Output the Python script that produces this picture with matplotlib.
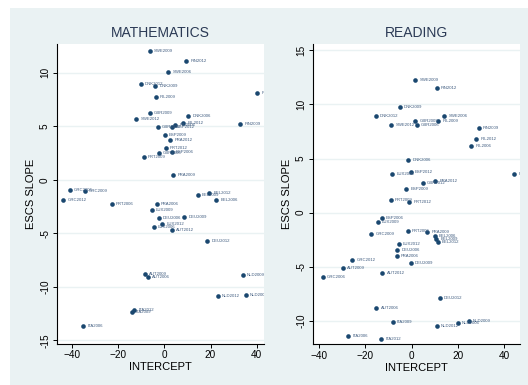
import matplotlib
matplotlib.use("Agg")
import matplotlib.pyplot as plt
from matplotlib.patches import Rectangle

plt.rcParams['font.family'] = ['Liberation Sans', 'DejaVu Sans']

# ---- MATHEMATICS ----
math_labels = ["SWE2009", "FIN2012", "SWE2006", "DNK2012", "DNK2009", "FIN2006", "IRL2009",
               "GBR2009", "DNK2006", "SWE2012", "IRL2012", "FIN2009", "GBR2012", "IRL2006",
               "ESP2012", "ESP2009", "FRA2012", "PRT2012", "GBR2006", "ESP2006", "PRT2009",
               "FRA2009", "GRC2006", "GRC2009", "GRC2012", "PRT2006", "FRA2006", "LUX2009",
               "DEU2006", "DEU2009", "LUX2012", "LUX2006", "AUT2012", "BEL2012", "BEL2009",
               "BEL2006", "DEU2012", "AUT2009", "AUT2006", "NLD2009", "NLD2012", "NLD2006",
               "ITA2012", "ITA2009", "ITA2006"]
math_x = [-6.2, 9.5, 1.7, -10.3, -4.1, 40.3, -3.8,
          -6.4, 10.3, -12.2, 8.2, 33.0, -3.0, 4.6,
          3.5, 0.1, 2.5, 0.5, -2.5, 3.1, -9.0,
          3.8, -41.0, -34.6, -43.9, -22.8, -3.4, -5.6,
          -2.4, 8.6, -1.0, -4.7, 3.4, 19.5, 14.5,
          22.5, 18.6, -8.3, -7.0, 33.9, 23.1, 35.2,
          -13.2, -14.1, -35.2]
math_y = [12.05, 11.1, 10.1, 8.9, 8.8, 8.06, 7.7,
          6.25, 6.0, 5.7, 5.3, 5.25, 4.95, 5.15,
          4.9, 4.2, 3.75, 3.0, 2.5, 2.6, 2.1,
          0.4, -1.0, -1.07, -1.85, -2.25, -2.3, -2.85,
          -3.6, -3.5, -4.1, -4.44, -4.66, -1.2, -1.47,
          -1.94, -5.7, -8.8, -9.1, -8.94, -10.9, -10.8,
          -12.2, -12.35, -13.7]

# ---- READING ----
read_labels = ["SWE2009", "FIN2012", "DNK2009", "DNK2012", "SWE2006", "GBR2009", "IRL2009",
               "SWE2012", "GBR2006", "FIN2009", "IRL2012", "IRL2006", "DNK2006", "FIN2006",
               "LUX2006", "ESP2012", "GBR2012", "FRA2012", "ESP2009", "PRT2009", "PRT2012",
               "ESP2006", "LUX2009", "GRC2009", "PRT2006", "FRA2009", "BEL2006", "BEL2009",
               "BEL2012", "LUX2012", "DEU2006", "FRA2006", "DEU2009", "GRC2012", "AUT2009",
               "AUT2012", "GRC2006", "DEU2012", "AUT2006", "ITA2009", "NLD2012", "NLD2006",
               "NLD2009", "ITA2006", "ITA2012"]
read_x = [1.6, 10.9, -5.2, -15.5, 14.1, 1.6, 11.5,
          -8.8, 2.3, 28.9, 28.0, 25.8, -1.4, 44.2,
          -8.3, -0.3, 4.8, 10.3, -2.4, -9.1, -1.0,
          -12.9, -14.6, -17.5, -1.6, 6.8, 10.0, 10.6,
          11.3, -5.6, -6.2, -6.5, -0.3, -25.6, -29.6,
          -12.6, -38.3, 12.2, -15.2, -8.1, 10.9, 19.9,
          24.7, -27.4, -13.2]
read_y = [12.25, 11.5, 9.75, 8.98, 8.92, 8.43, 8.45,
          8.08, 8.08, 7.84, 6.85, 6.2, 4.9, 3.6,
          3.6, 3.76, 2.74, 2.93, 2.19, 1.12, 0.98,
          -0.5, -0.87, -1.95, -1.7, -1.82, -2.22, -2.44,
          -2.72, -2.87, -3.43, -4.0, -4.63, -4.35, -5.13,
          -5.56, -5.96, -7.96, -8.83, -10.1, -10.46, -10.25,
          -10.0, -11.45, -11.7]

x_ticks = [-40, -20, 0, 20, 40]
math_yticks = [-15, -10, -5, 0, 5, 10]
read_yticks = [-10, -5, 0, 5, 10, 15]

NAVY = '#1a476f'
LABEL_C = '#3d5a7e'
BG = '#eaf2f3'
TITLE_C = '#2b3a55'

W, H = 528, 385
fig = plt.figure(figsize=(W / 100, H / 100), dpi=100)
fig.patch.set_facecolor('white')
fig.patches.append(Rectangle((10 / W, 0), 1 - 10 / W, 1 - 8 / H, transform=fig.transFigure,
                             facecolor=BG, edgecolor='none', zorder=-10))


def px_axes(x0, y0, x1, y1):
    return [x0 / W, 1 - y1 / H, (x1 - x0) / W, (y1 - y0) / H]


panels = [
    (px_axes(57, 44, 264, 343.5), "MATHEMATICS", math_labels, math_x, math_y,
     (-46.6, 43.2), (-15.3, 12.68), math_yticks),
    (px_axes(313, 44, 520, 344.3), "READING", read_labels, read_x, read_y,
     (-42.6, 46.8), (-12.2, 15.6), read_yticks),
]

for rect, title, labs, xs, ys, xl, yl, yt in panels:
    ax = fig.add_axes(rect)
    ax.set_facecolor('white')
    ax.set_xlim(*xl)
    ax.set_ylim(*yl)
    for s in ['top', 'right']:
        ax.spines[s].set_visible(False)
    for s in ['left', 'bottom']:
        ax.spines[s].set_linewidth(0.8)
        ax.spines[s].set_color('black')
    ax.set_xticks(x_ticks)
    ax.set_yticks(yt)
    ax.set_yticklabels([str(v) for v in yt], rotation=90, va='center')
    ax.tick_params(axis='both', direction='out', length=3, width=0.7, labelsize=7.2,
                   colors='black', pad=2)
    ax.yaxis.grid(True, color=BG, linewidth=1.0)
    ax.set_axisbelow(True)
    ax.scatter(xs, ys, s=11, color=NAVY, zorder=3, linewidths=0)
    for lab, x, y in zip(labs, xs, ys):
        ax.annotate(lab, (x, y), xytext=(3, 0), textcoords='offset points',
                    fontsize=3.1, color=LABEL_C, ha='left', va='center',
                    annotation_clip=True, clip_on=True)
    ax.set_xlabel("INTERCEPT", fontsize=8, labelpad=1)
    ax.set_ylabel("ESCS SLOPE", fontsize=8, labelpad=3)
    ax.set_title(title, fontsize=10, color=TITLE_C, pad=5)

fig.savefig("out.png", dpi=100)
